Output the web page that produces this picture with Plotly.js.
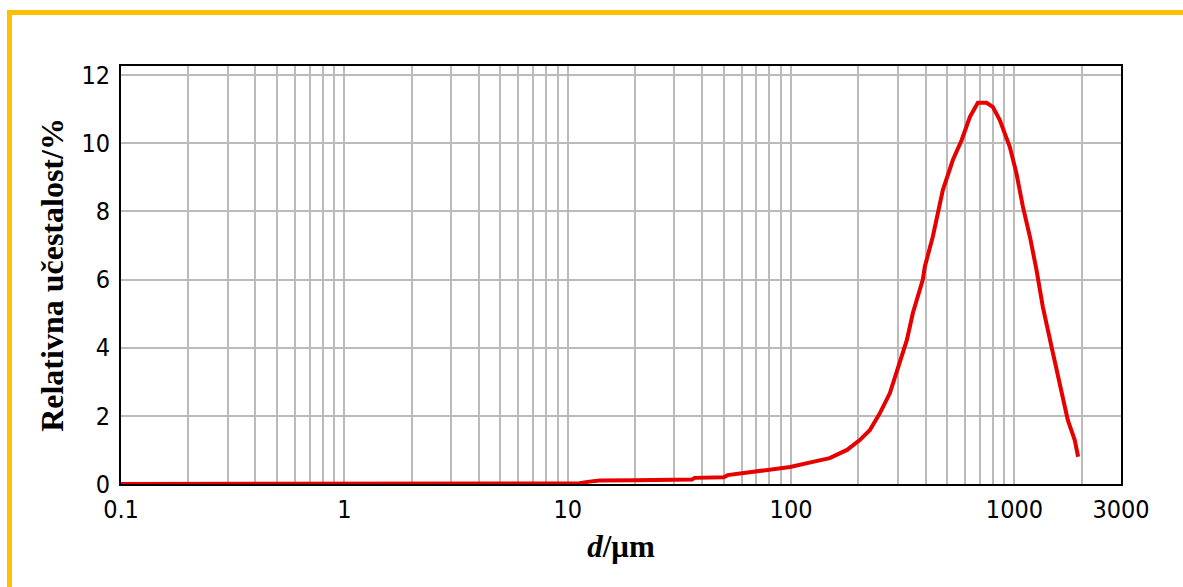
<!DOCTYPE html>
<html>
<head>
<meta charset="utf-8">
<script src="https://cdn.plot.ly/plotly-3.0.1.min.js"></script>
<style>
  html, body { margin: 0; padding: 0; background: #fff; overflow: hidden; }
  #chart { width: 1183px; height: 587px; }
  #frame { position: absolute; left: 7px; top: 10px; width: 2000px; height: 2000px;
           border-left: 5px solid #FFC000; border-top: 5px solid #FFC000; pointer-events: none; }
</style>
</head>
<body>
<div id="chart"></div>
<div id="frame"></div>
<script>
// Particle size (µm) and relative frequency (%)
const diameter = [0.1, 1, 10, 11.3, 12.5, 13.9, 20, 30, 36, 37, 50, 52, 63, 72, 89, 99,
  125, 149, 178, 203, 225, 250, 277, 307, 330, 351, 389, 397, 431, 478, 530, 580,
  632, 686, 750, 800, 860, 953, 1021, 1091, 1173, 1256, 1340, 1466, 1596, 1733, 1862, 1928];
const frequency = [0, 0, 0, 0.02, 0.07, 0.1, 0.11, 0.12, 0.13, 0.18, 0.2, 0.26, 0.33, 0.38, 0.45, 0.5,
  0.65, 0.76, 1.0, 1.29, 1.58, 2.08, 2.67, 3.55, 4.23, 5.02, 6.0, 6.38, 7.26, 8.63, 9.51, 10.09,
  10.78, 11.19, 11.19, 11.07, 10.68, 9.9, 9.12, 8.14, 7.26, 6.28, 5.2, 4.03, 2.96, 1.88, 1.29, 0.80];

const xTickVals = [0.1, 1, 10, 100, 1000, 3000];
const xTickText = ['0.1', '1', '10', '100', '1000', '3000'];
const xMinorVals = [0.2,0.3,0.4,0.5,0.6,0.7,0.8,0.9, 2,3,4,5,6,7,8,9, 20,30,40,50,60,70,80,90,
  200,300,400,500,600,700,800,900, 2000];
const yTickVals = [0, 2, 4, 6, 8, 10, 12];

const tickFont = { family: 'DejaVu Sans Condensed, DejaVu Sans, sans-serif', size: 25, color: '#000' };
const xTitleFont = { family: 'Liberation Serif, Times New Roman, serif', size: 31, color: '#000' };
const yTitleFont = { family: 'Liberation Serif, Times New Roman, serif', size: 32, color: '#000' };

const trace = {
  x: diameter, y: frequency, type: 'scatter', mode: 'lines',
  line: { color: 'rgb(230,0,0)', width: 4 },
  hoverinfo: 'skip'
};

const layout = {
  width: 1183, height: 587,
  margin: { l: 121, r: 62, t: 66, b: 103 },
  paper_bgcolor: '#fff', plot_bgcolor: '#fff',
  showlegend: false,
  xaxis: {
    type: 'log',
    range: [Math.log10(0.1), Math.log10(3000)],
    tickmode: 'array', tickvals: xTickVals, ticktext: xTickText,
    tickfont: tickFont, ticks: '', ticklabelstandoff: 2,
    showgrid: true, gridcolor: '#bbbbbb', gridwidth: 2,
    minor: { tickmode: 'array', tickvals: xMinorVals, showgrid: true, gridcolor: '#bbbbbb', gridwidth: 2, ticks: '' },
    showline: true, linecolor: '#000', linewidth: 2, mirror: true,
    zeroline: false,
    title: { text: '<b><i>d</i>/μm</b>', font: xTitleFont, standoff: 12 }
  },
  yaxis: {
    range: [0, 12.27],
    tickmode: 'array', tickvals: yTickVals,
    tickfont: tickFont, ticks: '', ticklabelstandoff: 4,
    showgrid: true, gridcolor: '#bbbbbb', gridwidth: 2,
    showline: true, linecolor: '#000', linewidth: 2, mirror: true,
    zeroline: false,
    title: { text: '<b>Relativna učestalost/%</b>', font: yTitleFont, standoff: 8 }
  }
};

Plotly.newPlot('chart', [trace], layout, { staticPlot: true, displayModeBar: false });
</script>
</body>
</html>
